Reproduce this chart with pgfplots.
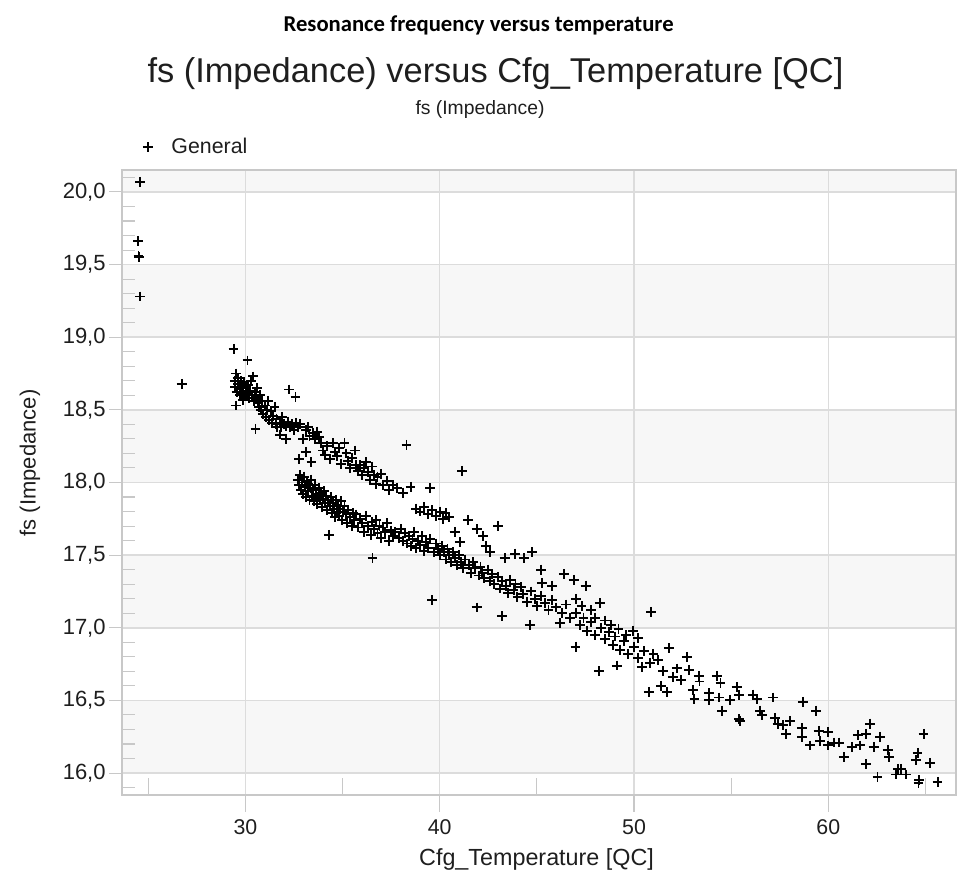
\documentclass[border=0pt]{standalone}
\usepackage{pgfplots}
\pgfplotsset{compat=1.18}
\usepackage{fontspec}
\setmainfont{Liberation Sans}
\newfontfamily\calibri{Carlito}
\definecolor{gridc}{HTML}{DCDCDC}
\definecolor{framec}{HTML}{C8C8C8}
\definecolor{bandc}{HTML}{F7F7F7}
\definecolor{txt}{HTML}{1E1E1E}

\pgfplotstableread{
x y
24.59 20.07
24.47 19.66
24.50 19.56
24.53 19.55
24.59 19.28
26.72 18.68
29.39 18.92
30.11 18.84
29.51 18.75
29.45 18.70
29.48 18.66
29.60 18.72
29.62 18.68
29.70 18.64
29.75 18.70
29.80 18.61
29.85 18.66
29.90 18.63
29.95 18.69
30.00 18.60
30.05 18.65
30.10 18.62
30.15 18.67
30.20 18.58
30.25 18.63
30.30 18.70
30.35 18.60
30.40 18.73
30.45 18.56
30.50 18.62
30.55 18.59
30.60 18.65
30.65 18.55
29.51 18.53
29.55 18.62
29.72 18.60
29.88 18.57
30.02 18.66
30.52 18.37
30.70 18.52
30.75 18.60
30.80 18.50
30.85 18.56
30.90 18.47
31.00 18.53
31.05 18.45
31.10 18.50
31.15 18.56
31.20 18.43
31.30 18.49
31.35 18.41
31.40 18.46
31.50 18.52
31.55 18.40
31.60 18.44
31.65 18.38
31.77 18.33
31.80 18.41
31.85 18.38
31.90 18.45
32.00 18.40
32.08 18.30
32.10 18.39
32.20 18.42
32.25 18.64
32.30 18.38
32.40 18.40
32.50 18.36
32.58 18.59
32.60 18.41
32.70 18.38
32.80 18.40
32.97 18.30
33.10 18.36
33.20 18.38
33.30 18.32
33.50 18.34
33.60 18.30
33.70 18.35
33.80 18.31
33.10 18.21
32.77 18.16
33.40 18.14
33.90 18.27
34.00 18.22
34.10 18.19
34.20 18.25
34.35 18.16
34.51 18.27
34.60 18.21
34.70 18.18
34.80 18.24
34.90 18.13
35.10 18.27
35.20 18.20
35.30 18.15
35.40 18.10
35.50 18.17
35.63 18.22
35.70 18.12
35.80 18.08
35.90 18.12
36.00 18.05
36.10 18.10
36.20 18.14
36.30 18.07
36.40 18.02
36.50 18.11
36.60 18.05
36.70 17.99
36.80 18.04
37.00 18.06
37.10 17.98
37.30 18.01
37.40 17.95
37.60 17.98
37.80 17.96
38.10 17.93
38.50 17.97
38.29 18.26
39.50 17.96
38.80 17.82
39.00 17.80
39.20 17.83
39.40 17.78
39.60 17.81
39.80 17.77
40.00 17.80
40.17 17.75
40.30 17.79
40.50 17.76
40.77 17.66
41.03 17.59
41.15 18.08
41.46 17.74
41.90 17.68
42.23 17.63
42.40 17.56
42.57 17.52
43.00 17.70
43.34 17.48
43.89 17.51
44.32 17.48
44.75 17.52
45.23 17.40
45.26 17.31
45.77 17.29
46.39 17.37
46.89 17.33
47.51 17.29
48.23 17.17
50.88 17.11
47.00 17.20
47.30 17.15
47.80 17.12
48.00 17.07
48.50 17.05
48.80 17.02
49.20 16.99
49.60 16.95
50.20 16.93
32.70 18.02
32.75 17.98
32.80 18.05
32.85 17.95
32.90 18.00
32.95 17.92
33.00 18.04
33.05 17.97
33.10 17.90
33.15 18.01
33.20 17.94
33.25 17.99
33.30 17.88
33.35 17.96
33.40 18.02
33.45 17.91
33.50 17.95
33.55 17.87
33.60 17.98
33.65 17.92
33.70 17.85
33.75 17.90
33.80 17.96
33.85 17.88
33.90 17.93
33.95 17.83
34.00 17.89
34.05 17.94
34.10 17.86
34.15 17.91
34.20 17.81
34.25 17.88
34.30 17.64
34.35 17.84
34.40 17.90
34.45 17.79
34.50 17.86
34.55 17.82
34.60 17.76
34.65 17.88
34.70 17.80
34.75 17.84
34.80 17.77
34.85 17.82
34.90 17.87
34.95 17.74
35.00 17.80
35.10 17.84
35.20 17.78
35.25 17.72
35.30 17.81
35.40 17.76
35.50 17.70
35.55 17.79
35.60 17.74
35.70 17.78
35.80 17.69
35.90 17.75
36.00 17.72
36.10 17.66
36.20 17.77
36.30 17.70
36.45 17.64
36.54 17.48
36.50 17.73
36.60 17.68
36.70 17.74
36.80 17.65
36.90 17.70
37.00 17.62
37.10 17.69
37.20 17.66
37.30 17.72
37.40 17.60
37.50 17.67
37.60 17.63
37.70 17.66
37.90 17.62
38.00 17.68
38.10 17.60
38.20 17.65
38.30 17.58
38.40 17.63
38.50 17.56
38.60 17.61
38.70 17.66
38.80 17.55
38.90 17.60
39.00 17.57
39.10 17.63
39.20 17.53
39.30 17.59
39.40 17.55
39.50 17.61
39.60 17.19
39.70 17.52
39.80 17.58
39.90 17.54
40.00 17.50
40.10 17.56
40.20 17.52
40.30 17.47
40.40 17.54
40.50 17.50
40.60 17.45
40.70 17.52
40.80 17.48
40.90 17.43
41.00 17.50
41.10 17.45
41.20 17.41
41.30 17.47
41.50 17.43
41.60 17.38
41.70 17.45
41.80 17.41
41.90 17.14
42.00 17.36
42.10 17.42
42.20 17.38
42.30 17.34
42.50 17.40
42.60 17.32
42.70 17.37
42.80 17.30
43.00 17.35
43.10 17.27
43.20 17.08
43.22 17.32
43.40 17.29
43.50 17.24
43.60 17.33
43.80 17.26
43.90 17.30
44.00 17.21
44.20 17.28
44.30 17.23
44.50 17.18
44.63 17.02
44.70 17.25
44.90 17.20
45.00 17.15
45.20 17.22
45.40 17.17
45.60 17.12
45.80 17.19
46.00 17.14
46.17 17.03
46.30 17.10
46.50 17.16
46.70 17.07
46.99 16.87
47.00 17.10
47.20 17.02
47.40 17.07
47.60 16.98
47.80 17.04
48.00 16.95
48.19 16.70
48.30 17.00
48.50 16.92
48.70 16.97
48.90 16.88
49.00 16.94
49.12 16.74
49.30 16.85
49.50 16.91
49.70 16.82
49.94 16.98
50.00 16.87
50.20 16.79
50.40 16.73
50.50 16.84
50.76 16.56
50.80 16.76
51.00 16.82
51.22 16.78
51.40 16.60
51.50 16.70
51.71 16.56
51.79 16.86
52.00 16.66
52.20 16.72
52.43 16.64
52.71 16.80
52.82 16.71
53.02 16.57
53.11 16.51
53.33 16.67
53.37 16.63
53.85 16.50
53.88 16.55
54.26 16.67
54.36 16.52
54.45 16.62
54.53 16.43
54.96 16.50
55.28 16.59
55.39 16.54
55.39 16.37
55.45 16.36
56.11 16.54
56.31 16.51
56.49 16.43
56.59 16.40
57.14 16.52
57.26 16.38
57.39 16.34
57.69 16.33
57.83 16.27
58.03 16.36
58.68 16.49
58.65 16.31
58.65 16.25
59.06 16.19
59.37 16.43
59.50 16.29
59.57 16.22
60.00 16.28
59.97 16.19
60.31 16.21
60.53 16.21
60.79 16.11
61.20 16.18
61.51 16.26
61.63 16.19
61.94 16.06
61.94 16.27
62.14 16.34
62.33 16.18
62.53 15.97
62.66 16.25
63.05 16.16
63.14 16.11
63.48 15.99
63.57 16.03
63.74 16.03
64.00 15.99
64.51 16.09
64.59 16.14
64.68 15.95
64.64 15.93
64.90 16.27
65.23 16.07
65.62 15.94
}\datatable

\begin{document}
\begin{tikzpicture}
\path (0pt,0pt) rectangle (718.5pt,654.75pt);
\begin{axis}[
  set layers,
  at={(91.5pt,58.5pt)}, anchor=south west,
  scale only axis, width=625.5pt, height=468.75pt,
  xmin=23.65, xmax=66.57, ymin=15.849, ymax=20.151,
  xtick={30,40,50,60},
  ytick={16,16.5,17,17.5,18,18.5,19,19.5,20},
  tick pos=left,
  tick align=outside,
  xtick style={draw=framec, line width=0.8pt, /pgfplots/major tick length=12.5pt},
  ytick style={draw=framec, line width=0.8pt, /pgfplots/major tick length=9.5pt},
  extra x ticks={25,35,45,55,65},
  extra x tick labels={},
  extra x tick style={grid=none, tick align=inside, /pgfplots/major tick length=12pt},
  extra y ticks={15.9,16.1,16.2,16.3,16.4,16.6,16.7,16.8,16.9,17.1,17.2,17.3,17.4,17.6,17.7,17.8,17.9,18.1,18.2,18.3,18.4,18.6,18.7,18.8,18.9,19.1,19.2,19.3,19.4,19.6,19.7,19.8,19.9,20.1},
  extra y tick labels={},
  extra y tick style={grid=none, tick align=inside, /pgfplots/major tick length=11pt},
  grid=major,
  major grid style={draw=gridc, line width=1.1pt},
  axis line style={draw=framec, line width=1pt},
  /pgf/number format/assume math mode=true,
  xticklabel style={font=\fontsize{16}{19}\selectfont, text=txt, yshift=-11pt},
  yticklabel style={font=\fontsize{16.5}{19}\selectfont, text=txt, xshift=-4.5pt,
     /pgf/number format/.cd, fixed, fixed zerofill, precision=1, use comma},
  legend style={draw=none, fill=none, at={(axis description cs:0,1)}, anchor=west,
     xshift=12.5pt, yshift=17.25pt, font=\fontsize{16}{19}\selectfont, text=txt,
     /tikz/column sep=12pt},
]
\begin{pgfonlayer}{axis background}
\fill[bandc] (axis cs:23.65,20) rectangle (axis cs:66.57,20.151);
\fill[bandc] (axis cs:23.65,19) rectangle (axis cs:66.57,19.5);
\fill[bandc] (axis cs:23.65,18) rectangle (axis cs:66.57,18.5);
\fill[bandc] (axis cs:23.65,17) rectangle (axis cs:66.57,17.5);
\fill[bandc] (axis cs:23.65,16) rectangle (axis cs:66.57,16.5);
\end{pgfonlayer}
\addplot[only marks, mark=+, mark size=3.7pt, mark options={draw=black, line width=1.45pt}] table[x=x,y=y] {\datatable};
\addlegendentry{General}
\end{axis}
\node[font=\calibri\bfseries\fontsize{17}{20}\selectfont] at (359pt,636pt) {Resonance frequency versus temperature};
\node[font=\fontsize{25.8}{30}\selectfont, text=txt] at (371.6pt,599.25pt) {fs (Impedance) versus Cfg\_Temperature [QC]};
\node[font=\fontsize{14.5}{17}\selectfont, text=txt] at (360pt,572.25pt) {fs (Impedance)};
\node[font=\fontsize{16.5}{19}\selectfont, text=txt, rotate=90] at (22.5pt,307.5pt) {fs (Impedance)};
\node[font=\fontsize{17.5}{20}\selectfont, text=txt] at (402.4pt,10.5pt) {Cfg\_Temperature [QC]};
\end{tikzpicture}
\end{document}
